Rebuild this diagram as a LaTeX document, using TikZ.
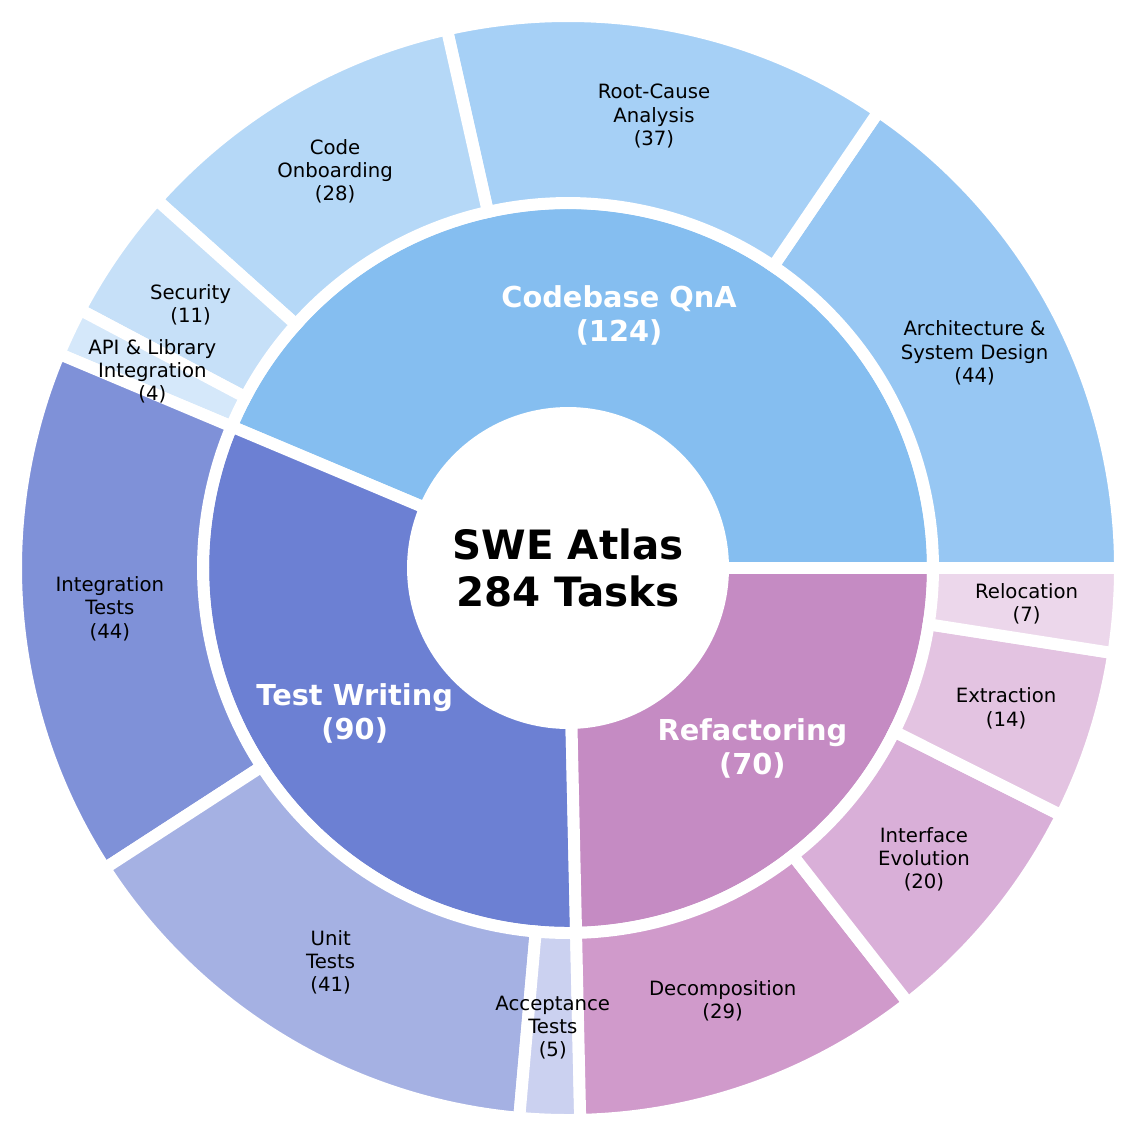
\documentclass[tikz,border=0pt]{standalone}
\usepackage{fontspec}
\setmainfont{DejaVu Sans}
\definecolor{cqa}{HTML}{85BEF0}
\definecolor{arch}{HTML}{97C7F3}
\definecolor{root}{HTML}{A6D0F6}
\definecolor{onb}{HTML}{B5D8F7}
\definecolor{sec}{HTML}{C6E0F8}
\definecolor{api}{HTML}{D5E8FA}
\definecolor{tw}{HTML}{6C80D3}
\definecolor{integ}{HTML}{7F91D8}
\definecolor{unit}{HTML}{A5B1E3}
\definecolor{acc}{HTML}{CBD1F0}
\definecolor{ref}{HTML}{C58BC3}
\definecolor{deco}{HTML}{D09ACB}
\definecolor{intf}{HTML}{D9AFD8}
\definecolor{extr}{HTML}{E3C3E1}
\definecolor{reloc}{HTML}{ECD7EB}
\newcommand{\sbwedge}[5]{\filldraw[fill=#1,draw=white,line width=3.4pt,line join=miter] (#2:#4) arc (#2:#3:#4) -- (#3:#5) arc (#3:#2:#5) -- cycle;}
\tikzset{outl/.style={font=\fontsize{5.6}{6.6}\selectfont,align=center,text=black},
inl/.style={font=\fontsize{8.2}{9.6}\selectfont\bfseries,align=center,text=white}}
\begin{document}
\begin{tikzpicture}
\useasboundingbox[fill=white] (-5.68,-5.69) rectangle (5.70,5.68);
% inner ring
\sbwedge{cqa}{0}{157.183}{1.55}{3.65}
\sbwedge{tw}{157.183}{271.268}{1.55}{3.65}
\sbwedge{ref}{271.268}{360}{1.55}{3.65}
% outer ring
\sbwedge{arch}{0}{55.775}{3.65}{5.52}
\sbwedge{root}{55.775}{102.676}{3.65}{5.52}
\sbwedge{onb}{102.676}{138.169}{3.65}{5.52}
\sbwedge{sec}{138.169}{152.113}{3.65}{5.52}
\sbwedge{api}{152.113}{157.183}{3.65}{5.52}
\sbwedge{integ}{157.183}{212.958}{3.65}{5.52}
\sbwedge{unit}{212.958}{264.930}{3.65}{5.52}
\sbwedge{acc}{264.930}{271.268}{3.65}{5.52}
\sbwedge{deco}{271.268}{308.028}{3.65}{5.52}
\sbwedge{intf}{308.028}{333.380}{3.65}{5.52}
\sbwedge{extr}{333.380}{351.127}{3.65}{5.52}
\sbwedge{reloc}{351.127}{360}{3.65}{5.52}
% labels
\node[font=\fontsize{11.5}{13.4}\selectfont\bfseries,align=center] (ctr) at (0,0) {SWE Atlas\\284 Tasks};
\node[inl] (l1) at (78.59:2.58) {Codebase QnA\\(124)};
\node[inl] (l2) at (214.23:2.58) {Test Writing\\(90)};
\node[inl] (l3) at (315.63:2.58) {Refactoring\\(70)};
\node[outl] (o1) at (27.89:4.6) {Architecture \&\\System Design\\(44)};
\node[outl] (o2) at (79.23:4.6) {Root-Cause\\Analysis\\(37)};
\node[outl] (o3) at (120.42:4.6) {Code\\Onboarding\\(28)};
\node[outl] (o4) at (145.14:4.6) {Security\\(11)};
\node[outl] (o5) at (154.65:4.6) {API \& Library\\Integration\\(4)};
\node[outl] (o6) at (185.07:4.6) {Integration\\Tests\\(44)};
\node[outl] (o7) at (238.94:4.6) {Unit\\Tests\\(41)};
\node[outl] (o8) at (268.10:4.6) {Acceptance\\Tests\\(5)};
\node[outl] (o9) at (289.65:4.6) {Decomposition\\(29)};
\node[outl] (o10) at (320.70:4.6) {Interface\\Evolution\\(20)};
\node[outl] (o11) at (342.25:4.6) {Extraction\\(14)};
\node[outl] (o12) at (355.56:4.6) {Relocation\\(7)};
\end{tikzpicture}
\end{document}
